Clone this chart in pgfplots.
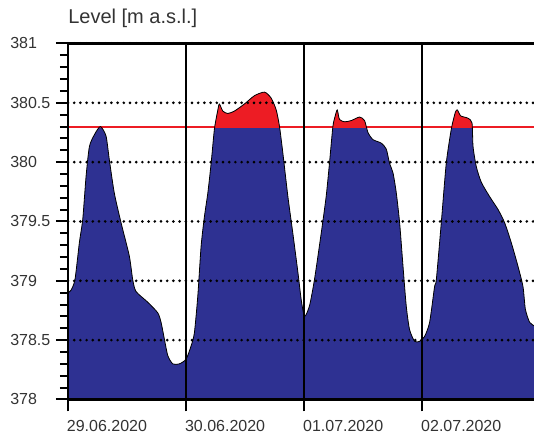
\documentclass[border=0pt]{standalone}
\usepackage{fontspec}
\setmainfont{Liberation Sans}
\usepackage{pgfplots}
\pgfplotsset{compat=1.18}
\usepackage{pgfplotstable}
\definecolor{lakeblue}{HTML}{2E3192}
\definecolor{lakered}{HTML}{ED1C24}
\definecolor{txt}{HTML}{333333}

\pgfplotstableread{
d y
0.000 378.90
0.025 378.92
0.059 379.01
0.096 379.32
0.125 379.52
0.153 379.88
0.181 380.13
0.223 380.23
0.274 380.30
0.322 380.22
0.350 380.02
0.392 379.74
0.449 379.49
0.519 379.21
0.548 379.01
0.576 378.91
0.675 378.82
0.760 378.73
0.788 378.65
0.816 378.51
0.845 378.37
0.887 378.30
0.943 378.30
1.000 378.34
1.042 378.45
1.070 378.56
1.099 378.87
1.127 379.29
1.155 379.54
1.184 379.74
1.212 379.99
1.240 380.28
1.269 380.44
1.282 380.49
1.311 380.43
1.353 380.41
1.409 380.43
1.494 380.49
1.579 380.56
1.664 380.59
1.720 380.54
1.763 380.44
1.791 380.30
1.819 380.08
1.862 379.71
1.904 379.40
1.947 379.07
1.975 378.84
2.003 378.70
2.045 378.79
2.087 379.01
2.144 379.40
2.186 379.71
2.214 379.99
2.243 380.30
2.263 380.39
2.280 380.44
2.299 380.36
2.342 380.34
2.398 380.35
2.469 380.38
2.511 380.35
2.540 380.25
2.582 380.19
2.653 380.16
2.695 380.11
2.723 379.99
2.752 379.91
2.780 379.74
2.808 379.49
2.837 379.12
2.864 378.79
2.892 378.59
2.935 378.49
2.977 378.49
3.019 378.53
3.062 378.65
3.104 378.95
3.119 379.01
3.161 379.49
3.203 379.99
3.246 380.28
3.280 380.42
3.297 380.44
3.325 380.39
3.387 380.37
3.421 380.33
3.430 380.13
3.458 379.96
3.500 379.83
3.570 379.71
3.642 379.60
3.697 379.49
3.754 379.32
3.811 379.12
3.853 378.95
3.873 378.76
3.909 378.65
3.951 378.62
}\level

\begin{document}
\begin{tikzpicture}
\useasboundingbox (-51pt,-28.9pt) rectangle (349.5pt,299.6pt);
\begin{axis}[
  at={(0,0)}, anchor=south west,
  scale only axis, width=349.5pt, height=267pt,
  xmin=0, xmax=3.946, ymin=378, ymax=381,
  axis x line*=box, axis y line*=left,
  xtick pos=left,
  axis line style={line width=2pt, black},
  tick style={line width=1.5pt, black},
  tick align=outside,
  major tick length=9pt, minor tick length=6pt,
  xtick={0,1,2,3},
  xticklabels={29.06.2020,30.06.2020,01.07.2020,02.07.2020},
  ytick={378,378.5,...,381}, minor y tick num=4,
  xmajorgrids, ymajorgrids,
  major x grid style={solid, black, line width=1.5pt},
  major y grid style={black, line width=2.2pt, line cap=round, dash pattern=on 0pt off 4.65pt},
  axis on top,
  ticklabel style={font=\fontsize{12}{14}\selectfont, text=txt},
  /pgf/number format/assume math mode=true,
  yticklabel style={anchor=west, inner sep=0pt, xshift=-34.5pt},
  xticklabel style={anchor=north west, inner sep=0pt, xshift=-1pt, yshift=-6.75pt},
  title={Level [m a.s.l.]},
  title style={at={(0,1)}, anchor=base west, inner sep=0pt, yshift=8.8pt, font=\fontsize{15}{18}\selectfont, text=txt},
]
\addplot[fill=lakeblue, draw=none, smooth, tension=0.4] table[x=d, y=y] {\level} \closedcycle;
% parts of the level above the 380.3 threshold
\addplot[fill=lakered, draw=none, smooth, tension=0.4] coordinates {(1.244,380.3) (1.269,380.44) (1.282,380.49) (1.311,380.43) (1.353,380.41) (1.409,380.43) (1.494,380.49) (1.579,380.56) (1.664,380.59) (1.720,380.54) (1.763,380.44) (1.791,380.30)} -- cycle;
\addplot[fill=lakered, draw=none, smooth, tension=0.4] coordinates {(2.243,380.30) (2.263,380.39) (2.280,380.44) (2.299,380.36) (2.342,380.34) (2.398,380.35) (2.469,380.38) (2.511,380.35) (2.525,380.30)} -- cycle;
\addplot[fill=lakered, draw=none, smooth, tension=0.4] coordinates {(3.251,380.30) (3.280,380.42) (3.297,380.44) (3.325,380.39) (3.387,380.37) (3.421,380.33) (3.422,380.30)} -- cycle;
\addplot[lakered, line width=1.5pt] coordinates {(0,380.3) (3.96,380.3)};
\addplot[black, line width=0.6pt, smooth, tension=0.4] table[x=d, y=y] {\level};
\end{axis}
\end{tikzpicture}
\end{document}
